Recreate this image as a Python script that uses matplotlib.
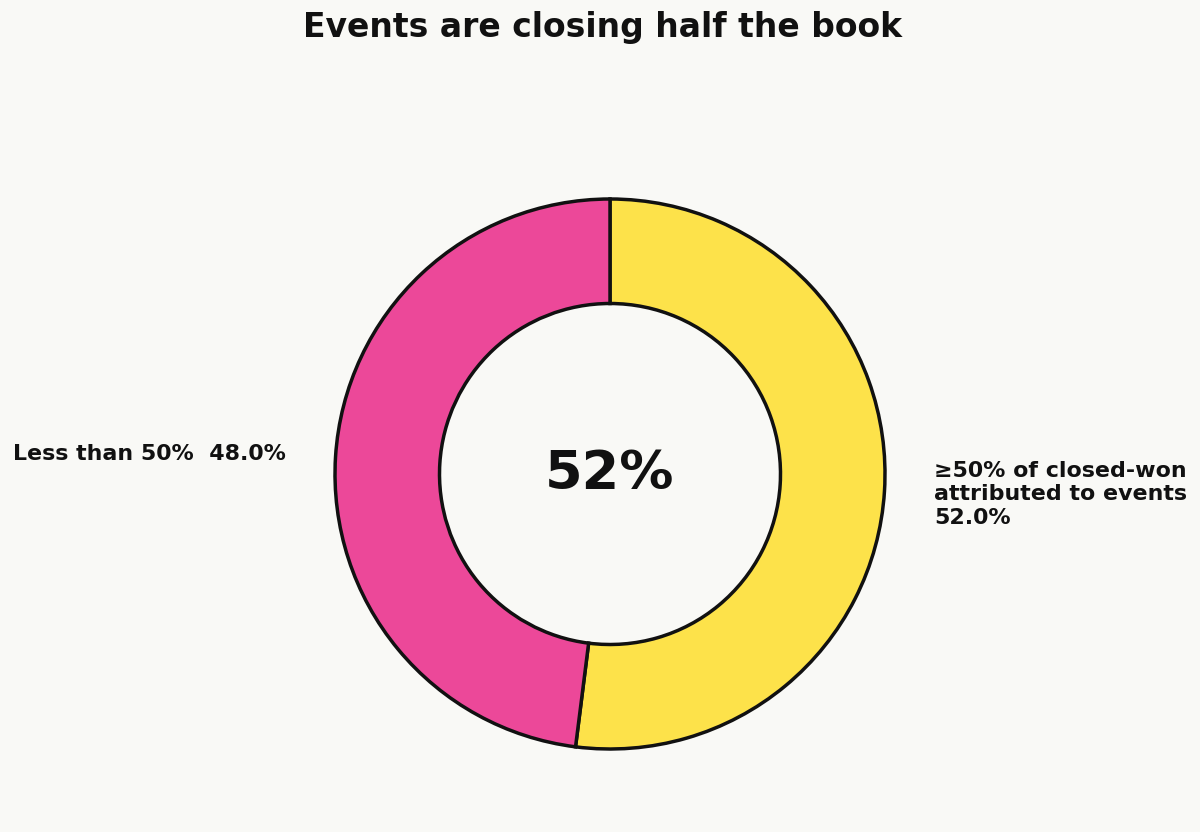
import matplotlib.pyplot as plt

plt.rcParams['font.family'] = ['DejaVu Sans']

# data
labels = ['≥50% of closed-won\nattributed to events\n52.0%', 'Less than 50%  48.0%']
values = [52, 48]
colors = ['#FDE24A', '#EC4899']
center_text = '52%'

BG = '#F9F9F6'
INK = '#111111'

fig = plt.figure(figsize=(12, 8.32), dpi=100, facecolor=BG)

# axes placed so the ring sits where the reference has it (radius 1 = 275 px)
W, H = 1200, 832
r_px = 275
cx, cy = 610, 832 - 474
lim = 1.2
ax = fig.add_axes([(cx - lim * r_px) / W, (cy - lim * r_px) / H,
                   2 * lim * r_px / W, 2 * lim * r_px / H])
ax.set_facecolor(BG)

wedges, texts = ax.pie(values, labels=labels, colors=colors,
                       startangle=90, counterclock=False,
                       labeldistance=1.18,
                       wedgeprops=dict(width=0.38, edgecolor=INK, linewidth=2.5),
                       textprops=dict(fontsize=15.9, fontweight='bold', color=INK))
ax.set_xlim(-lim, lim)
ax.set_ylim(-lim, lim)
ax.set_aspect('equal')
ax.axis('off')

ax.text(0, 0, center_text, ha='center', va='center',
        fontsize=39, fontweight='bold', color=INK)

fig.text(0.502, 1 - 27 / H, 'Events are closing half the book',
         ha='center', va='center', fontsize=23.8, fontweight='bold', color=INK)

fig.savefig('out.png', dpi=100, facecolor=BG)
